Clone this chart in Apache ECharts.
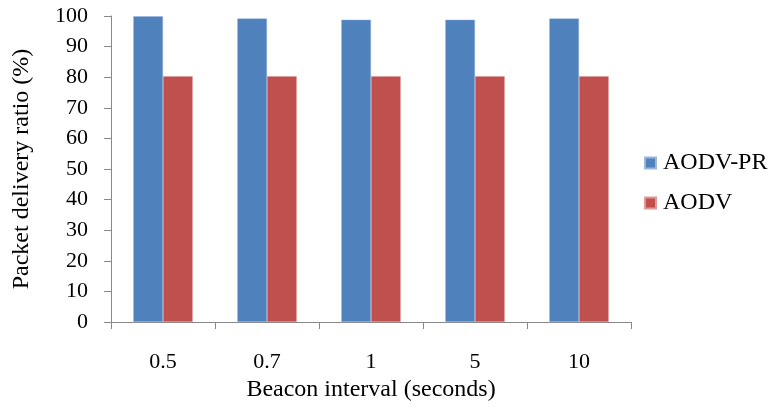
<!DOCTYPE html>
<html>
<head>
<meta charset="utf-8">
<script src="https://cdn.jsdelivr.net/npm/echarts@6/dist/echarts.min.js"></script>
<style>html,body{margin:0;padding:0;background:#fff;}#c{width:772px;height:411px;}</style>
</head>
<body>
<div id="c"></div>
<script>
const categories = ['0.5', '0.7', '1', '5', '10'];
const aodvPr = [99.9, 99.2, 98.8, 98.8, 99.2];
const aodv = [80.3, 80.3, 80.3, 80.3, 80.3];
const yTicks = [0, 10, 20, 30, 40, 50, 60, 70, 80, 90, 100];

const font = 'Liberation Serif, Times New Roman, serif';
const chart = echarts.init(document.getElementById('c'), null, {renderer: 'canvas'});
chart.setOption({
  animation: false,
  backgroundColor: '#fff',
  textStyle: {fontFamily: font},
  grid: {left: 111, right: 141, top: 16, bottom: 89, containLabel: false},
  legend: {
    orient: 'vertical', left: 639, top: 146, itemWidth: 11, itemHeight: 11, itemGap: 16,
    icon: 'rect',
    textStyle: {fontFamily: font, fontSize: 24, color: '#000', padding: [0, 0, 0, 2]},
    data: ['AODV-PR', 'AODV']
  },
  xAxis: {
    type: 'category', data: categories,
    name: 'Beacon interval (seconds)', nameLocation: 'middle', nameGap: 56,
    nameTextStyle: {fontFamily: font, fontSize: 24, color: '#000'},
    axisLine: {lineStyle: {color: '#888', width: 1}},
    axisTick: {show: true, length: 7, lineStyle: {color: '#888'}},
    axisLabel: {fontFamily: font, fontSize: 22, color: '#000', margin: 29}
  },
  yAxis: {
    type: 'value', min: yTicks[0], max: yTicks[yTicks.length - 1], interval: 10,
    name: 'Packet delivery ratio (%)', nameLocation: 'middle', nameGap: 77, nameRotate: 90,
    nameTextStyle: {fontFamily: font, fontSize: 24, color: '#000'},
    axisLine: {show: true, lineStyle: {color: '#888', width: 1}},
    axisTick: {show: true, length: 7, lineStyle: {color: '#888'}},
    axisLabel: {fontFamily: font, fontSize: 22, color: '#000', margin: 23},
    splitLine: {show: false}
  },
  series: [
    {name: 'AODV-PR', type: 'bar', data: aodvPr, barGap: '0%', barCategoryGap: '42.86%',
     itemStyle: {color: '#4F81BD', borderColor: '#9BB7DD', borderWidth: 0.5}},
    {name: 'AODV', type: 'bar', data: aodv,
     itemStyle: {color: '#C0504D', borderColor: '#DE9A98', borderWidth: 0.5}}
  ]
});
</script>
</body>
</html>
